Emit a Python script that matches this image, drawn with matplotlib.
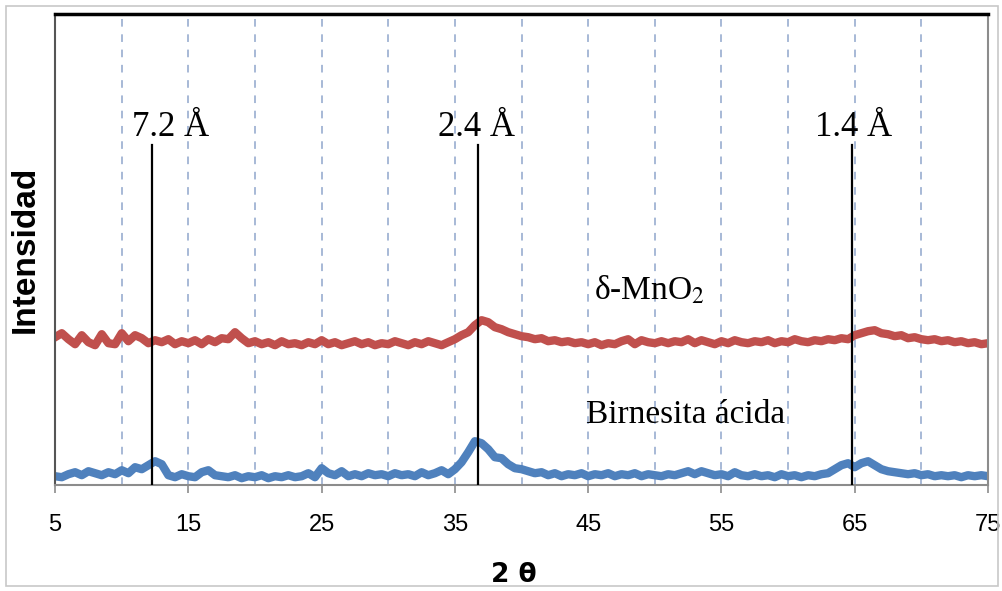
import matplotlib.pyplot as plt
from matplotlib.patches import Rectangle

# 2 theta from 5 to 75 in steps of 0.5
two_theta = [5 + 0.5 * i for i in range(141)]

mno2 = [148, 152, 146, 141, 150, 143, 140, 151, 142, 141,
        152, 144, 150, 147, 142, 145, 143, 146, 141, 144,
        142, 145, 141, 146, 143, 147, 146, 153, 147, 142,
        144, 141, 143, 140, 144, 141, 142, 140, 143, 141,
        145, 141, 143, 140, 142, 144, 141, 143, 140, 142,
        141, 144, 142, 140, 143, 141, 144, 142, 140, 143,
        146, 150, 153, 160, 165, 163, 158, 156, 153, 151,
        149, 148, 146, 147, 144, 145, 143, 144, 142, 143,
        141, 143, 140, 142, 141, 144, 146, 141, 145, 143,
        142, 144, 142, 144, 143, 146, 142, 145, 143, 141,
        144, 142, 145, 143, 142, 144, 143, 145, 142, 144,
        143, 146, 144, 143, 145, 144, 146, 145, 147, 146,
        150, 152, 154, 155, 152, 151, 149, 150, 147, 148,
        146, 145, 146, 144, 145, 143, 144, 142, 143, 141,
        142]

birnesita = [9, 8, 11, 13, 10, 14, 12, 10, 13, 11,
             15, 12, 18, 16, 20, 24, 21, 10, 8, 11,
             9, 8, 13, 15, 10, 9, 8, 10, 7, 9,
             8, 10, 7, 9, 8, 10, 8, 9, 12, 8,
             17, 12, 10, 14, 9, 11, 9, 12, 10, 11,
             9, 12, 10, 11, 9, 13, 10, 12, 15, 11,
             16, 23, 33, 44, 42, 36, 28, 27, 21, 17,
             16, 14, 12, 13, 10, 12, 9, 11, 10, 12,
             9, 11, 10, 12, 9, 11, 10, 12, 9, 11,
             10, 9, 11, 10, 12, 14, 11, 14, 12, 10,
             11, 9, 13, 10, 9, 11, 9, 10, 8, 11,
             9, 10, 8, 10, 9, 11, 12, 16, 20, 22,
             18, 22, 24, 20, 16, 14, 13, 12, 11, 12,
             10, 11, 9, 10, 9, 10, 8, 10, 9, 10,
             9]

peak_pos = [12.3, 36.7, 64.8]
peak_labels = ['7.2 Å', '2.4 Å', '1.4 Å']
label_pos = [13.7, 36.6, 64.9]

fig = plt.figure(figsize=(10.02, 5.91), dpi=100)
ax = fig.add_axes([0.055, 0.179, 0.931, 0.797])

fig.patches.append(Rectangle((0.006, 0.008), 0.99, 0.982, transform=fig.transFigure,
                             fill=False, edgecolor='#c8c8c8', linewidth=1.2))

for x in range(10, 75, 5):
    ax.axvline(x, color='#8fa6cc', linestyle=(0, (5, 5)), linewidth=1.1, zorder=0)

ax.plot(two_theta, mno2, color='#c0504d', linewidth=6, solid_joinstyle='round')
ax.plot(two_theta, birnesita, color='#4f81bd', linewidth=6, solid_joinstyle='round')

for p in peak_pos:
    ax.plot([p, p], [0, 340], color='black', linewidth=1.6, zorder=3)

for xl, txt in zip(label_pos, peak_labels):
    ax.text(xl, 341, txt, ha='center', va='bottom', fontsize=25,
            family='Liberation Serif')

ax.text(49.6, 195, 'δ-MnO$_2$', ha='center', va='center', fontsize=24,
        family='Liberation Serif', math_fontfamily='stix')
ax.text(52.3, 70, 'Birnesita ácida', ha='center', va='center', fontsize=24,
        family='Liberation Serif')

ax.set_xlim(5, 75)
ax.set_ylim(0, 471)
ax.set_xticks(range(5, 76, 10))
ax.set_yticks([])
ax.tick_params(axis='x', length=6, width=1.2, color='#8c8c8c', labelsize=17, pad=15)
for lab in ax.get_xticklabels():
    lab.set_family('Liberation Sans')

ax.spines['top'].set_linewidth(2.5)
ax.spines['top'].set_color('black')
ax.spines['left'].set_color('#555555')
ax.spines['left'].set_linewidth(1.5)
ax.spines['right'].set_color('#8c8c8c')
ax.spines['right'].set_linewidth(1.5)
ax.spines['bottom'].set_color('#8c8c8c')
ax.spines['bottom'].set_linewidth(1.5)

ax.set_ylabel('Intensidad', fontsize=24, fontweight='bold', family='Liberation Sans',
              labelpad=10)
fig.text(514 / 1002, 1 - 575 / 591, '2 θ', ha='center', va='center', fontsize=19,
         fontweight='bold', family='DejaVu Sans')

fig.savefig('out.png', dpi=100)
